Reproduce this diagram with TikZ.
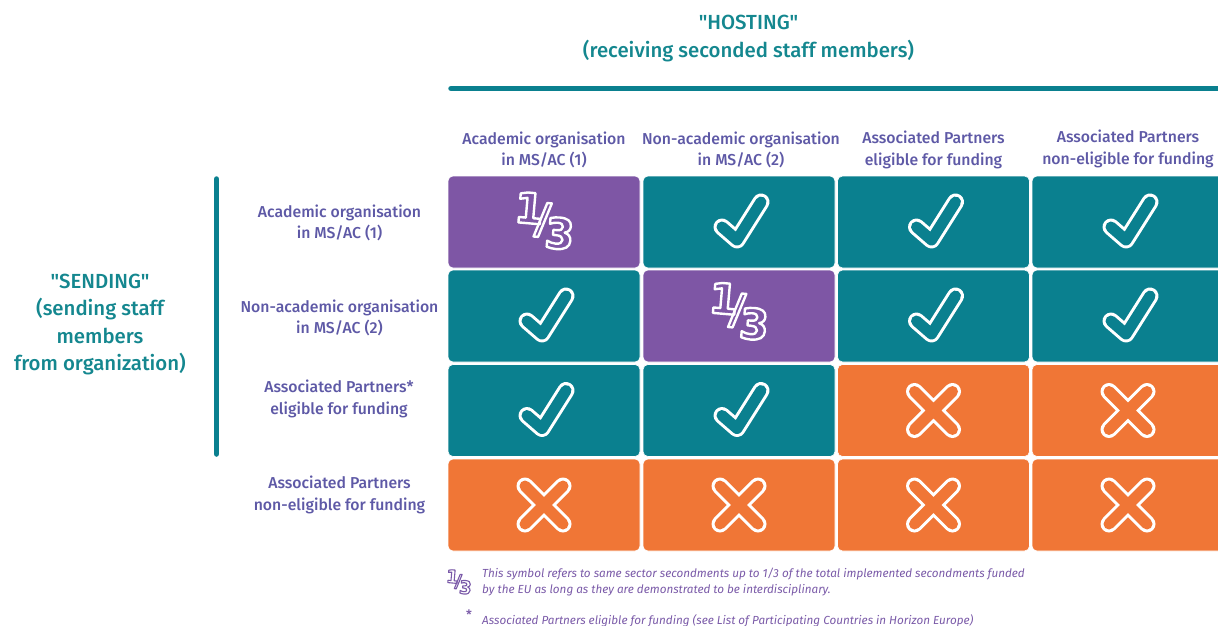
\documentclass[tikz,border=0pt]{standalone}
\usepackage{fontspec}
\newfontfamily\basefont{Fira Sans}[UprightFont=* Medium,ItalicFont=* Italic]
\newfontfamily\symfont{DejaVu Sans}[BoldFont=* Bold]
\definecolor{tealc}{HTML}{0A808F}
\definecolor{purpc}{HTML}{7E56A5}
\definecolor{orgc}{HTML}{F07636}
\definecolor{labc}{HTML}{5E59A6}
\definecolor{headc}{HTML}{14878F}
\definecolor{notec}{HTML}{7A5AA8}
\newcommand{\onethird}[3]{\symfont\bfseries\fontsize{#1}{#1}\selectfont\special{pdf:code 1 Tr 1 j #2 w #3 RG}\raisebox{.21em}{1}\kern-.19em\raisebox{0em}{/}\kern-.10em\raisebox{-.33em}{3}\special{pdf:code 0 Tr}}
\tikzset{
  x=1pt,y=-1pt,
  cell/.style={draw=white,line width=.6pt,rounded corners=5pt,minimum width=192pt,minimum height=92pt,inner sep=0pt},
  toptitle/.style={text=headc,font=\basefont\fontsize{20.4}{27.5}\selectfont,align=center,inner sep=0pt},
  lab/.style={text=labc,font=\basefont\fontsize{15.8}{21.5}\selectfont,align=center,inner sep=0pt},
  note/.style={text=notec,font=\basefont\fontsize{11.7}{16}\selectfont\itshape,align=left,inner sep=0pt,anchor=west},
  bar/.style={draw=tealc,line width=5.5pt,line cap=round},
  pics/okmark/.style={code={
    \draw[white,line width=17pt,line cap=round,line join=round] (-17,5) -- (-2,18) -- (22,-20);
    \draw[#1,line width=11pt,line cap=round,line join=round] (-17,5) -- (-2,18) -- (22,-20);}},
  pics/nomark/.style={code={
    \draw[white,line width=17pt,line cap=round] (-19,-19) -- (19,19) (-19,19) -- (19,-19);
    \draw[#1,line width=11pt,line cap=round] (-19,-19) -- (19,19) (-19,19) -- (19,-19);}},
}
\begin{document}
\begin{tikzpicture}
\useasboundingbox (0,0) rectangle (1218,626);
\clip (0,0) rectangle (1218,626);
\node[toptitle] (hosting) at (748.5,38.5) {"HOSTING"\\(receiving seconded staff members)};
\coordinate (hb1) at (451,88.5); \coordinate (hb2) at (1225,88.5);
\draw[bar] (hb1) -- (hb2);
\node[lab] (h1) at (544,150) {Academic organisation\\in MS/AC (1)};
\node[lab] (h2) at (741,150) {Non-academic organisation\\in MS/AC (2)};
\node[lab] (h3) at (933.5,150) {Associated Partners\\eligible for funding};
\node[lab] (h4) at (1128,149) {Associated Partners\\non-eligible for funding};
\node[toptitle] (sending) at (100,324.3) {"SENDING"\\(sending staff\\members\\from organization)};
\coordinate (vb1) at (216.5,179); \coordinate (vb2) at (216.5,454);
\draw[bar] (vb1) -- (vb2);
\node[lab] (r1) at (339.5,223) {Academic organisation\\in MS/AC (1)};
\node[lab] (r2) at (339.5,318) {Non-academic organisation\\in MS/AC (2)};
\node[lab] (r3) at (339,399) {Associated Partners*\\eligible for funding};
\node[lab] (r4) at (339.5,495) {Associated Partners\\non-eligible for funding};
% row 1
\node[cell,fill=purpc] (c11) at (544,222) {};
\node[cell,fill=tealc] (c12) at (739,222) {};
\node[cell,fill=tealc] (c13) at (933.5,222) {};
\node[cell,fill=tealc] (c14) at (1128,222) {};
% row 2
\node[cell,fill=tealc] (c21) at (544,316) {};
\node[cell,fill=purpc] (c22) at (739,316) {};
\node[cell,fill=tealc] (c23) at (933.5,316) {};
\node[cell,fill=tealc] (c24) at (1128,316) {};
% row 3
\node[cell,fill=tealc] (c31) at (544,410.5) {};
\node[cell,fill=tealc] (c32) at (739,410.5) {};
\node[cell,fill=orgc] (c33) at (933.5,410.5) {};
\node[cell,fill=orgc] (c34) at (1128,410.5) {};
% row 4
\node[cell,fill=orgc] (c41) at (544,505) {};
\node[cell,fill=orgc] (c42) at (739,505) {};
\node[cell,fill=orgc] (c43) at (933.5,505) {};
\node[cell,fill=orgc] (c44) at (1128,505) {};
% marks
\node[white,inner sep=0pt,rotate=-5] (t11) at (544.5,221) {\onethird{42}{2.4}{1 1 1}};
\node[white,inner sep=0pt,rotate=-5] (t22) at (739,311.5) {\onethird{42}{2.4}{1 1 1}};
\pic at (c12.center) {okmark=tealc};
\pic at (c13.center) {okmark=tealc};
\pic at (c14.center) {okmark=tealc};
\pic at (c21.center) {okmark=tealc};
\pic at (c23.center) {okmark=tealc};
\pic at (c24.center) {okmark=tealc};
\pic at (c31.center) {okmark=tealc};
\pic at (c32.center) {okmark=tealc};
\pic at (c33.center) {nomark=orgc};
\pic at (c34.center) {nomark=orgc};
\pic at (c41.center) {nomark=orgc};
\pic at (c42.center) {nomark=orgc};
\pic at (c43.center) {nomark=orgc};
\pic at (c44.center) {nomark=orgc};
% notes
\node[notec,inner sep=0pt,rotate=-5] (tn) at (459,582) {\onethird{18}{1.1}{0.48 0.35 0.66}};
\node[note] (n1) at (482,582.5) {This symbol refers to same sector secondments up to 1/3 of the total implemented secondments funded\\by the EU as long as they are demonstrated to be interdisciplinary.};
\node[text=notec,font=\basefont\fontsize{13}{13}\selectfont,inner sep=0pt] (star) at (469,615) {*};
\node[note] (n2) at (482,620.5) {Associated Partners eligible for funding (see List of Participating Countries in Horizon Europe)};
\end{tikzpicture}
\end{document}
